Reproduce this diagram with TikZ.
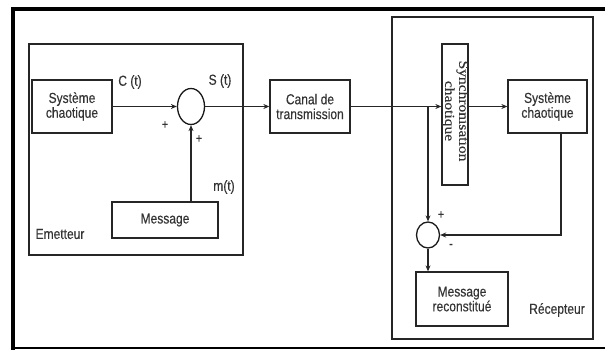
\documentclass[tikz,border=0pt]{standalone}
\usepackage{fontspec}
\setmainfont{Liberation Sans}
\newfontfamily\narrowsans[FakeStretch=0.83,FakeBold=0.3]{Liberation Sans}
\newfontfamily\timesfont[FakeBold=0.3]{Liberation Serif}
\usetikzlibrary{shapes.geometric,arrows.meta}
\tikzset{
  blk/.style={draw=black!85, line width=1.3pt, inner sep=0pt, align=center,
    font=\narrowsans\fontsize{14.5}{14.8}\selectfont, text=black!80},
  grp/.style={draw=black!85, line width=1.3pt, inner sep=0pt},
  sumnode/.style={draw=black!90, line width=1.3pt, ellipse, inner sep=0pt},
  lbl/.style={inner sep=0pt, font=\narrowsans\fontsize{14.5}{14.8}\selectfont, text=black!80},
  sgn/.style={inner sep=0pt, font=\narrowsans\fontsize{13}{13}\selectfont, text=black!80},
  conn/.style={line width=1.3pt, draw=black!85},
  arr/.style={conn, -{Stealth[length=6pt,width=5pt]}}
}
\begin{document}
\begin{tikzpicture}[x=1pt,y=-1pt]
\useasboundingbox (0,0) rectangle (605,350);
% outer frame
\draw[line width=3.5pt] (13,350) -- (13,9) -- (605,9);
\draw[line width=1.5pt] (13,348) -- (605,348);
% group boxes
\node[grp, minimum width=214pt, minimum height=211pt] (emet) at (136,149.5) {};
\node[grp, minimum width=201pt, minimum height=322pt] (recep) at (492.5,178) {};
% blocks
\node[blk, minimum width=80pt, minimum height=53pt] (sys1) at (72,106.5) {Système\\chaotique};
\node[sumnode, minimum width=27pt, minimum height=36pt] (sum1) at (191,106.5) {};
\node[blk, minimum width=106pt, minimum height=36pt] (msg) at (165,220) {Message};
\node[blk, minimum width=80pt, minimum height=53pt] (canal) at (310,106.5) {Canal de\\transmission};
\node[blk, minimum width=26pt, minimum height=141pt] (sync) at (455,114.5) {};
\node[inner sep=0pt, text=black!80] (synctxt) at (455,111)
  {\rotatebox{-90}{\scalebox{1}[0.88]{\timesfont\fontsize{15.5}{16}\selectfont
   \begin{tabular}{@{}c@{}}Synchronisation\\chaotique\end{tabular}}}};
\node[blk, minimum width=79pt, minimum height=53pt] (sys2) at (547.5,106.5) {Système\\chaotique};
\node[sumnode, minimum width=23pt, minimum height=26pt] (sum2) at (428,235) {};
\node[blk, minimum width=92pt, minimum height=54pt] (rec) at (462,299) {Message\\reconstitué};
% labels
\node[lbl] (lc) at (130,82) {C (t)};
\node[lbl] (ls) at (220,81) {S (t)};
\node[lbl] (lm) at (224,187) {m(t)};
\node[lbl] (le) at (60,234) {Emetteur};
\node[lbl] (lr) at (557,310) {Récepteur};
\node[sgn] (p1) at (165,125) {+};
\node[sgn] (p2) at (199,139) {+};
\node[sgn] (p3) at (441,215) {+};
\node[sgn] (m3) at (451,246) {-};
% connectors
\draw[arr] (sys1.east) -- (sum1.west);
\draw[arr] (msg.north -| sum1.south) -- (sum1.south);
\draw[arr] (sum1.east) -- (canal.west);
\draw[arr] (canal.east) -- (sync.west |- canal.east);
\coordinate (br) at (428,106.5);
\draw[arr] (br) -- (sum2.north);
\draw[arr] (sync.east |- sys2.west) -- (sys2.west);
\coordinate (fb) at (561,133);
\draw[arr] (fb) |- (sum2.east);
\draw[arr] (sum2.south) -- (rec.north -| sum2.south);
\end{tikzpicture}
\end{document}
